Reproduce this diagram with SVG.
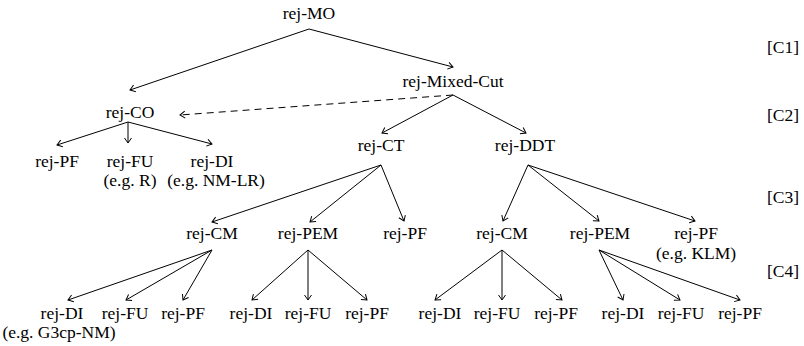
<svg xmlns="http://www.w3.org/2000/svg" width="804" height="346" viewBox="0 0 804 346">
<defs>
<marker id="ah" markerUnits="userSpaceOnUse" markerWidth="10" markerHeight="10" viewBox="-8 -5 10 10" refX="0" refY="0" orient="auto">
<path d="M-5,-3.5 L0,0 L-5,3.5" fill="none" stroke="#000" stroke-width="1"/>
</marker>
<style>
.t text{font-size:17.5px;fill:#000;text-anchor:middle}
.t text.lvl{text-anchor:start}
.c line{stroke:#000;stroke-width:1;fill:none;marker-end:url(#ah)}
.c line.d{stroke-dasharray:7,5}
</style>
</defs>
<rect width="804" height="346" fill="#fff"/>
<g class="c" id="connectors">
<line x1="309" y1="29" x2="130" y2="90"/>
<line x1="309" y1="29" x2="453" y2="67"/>
<line class="d" x1="453" y1="95" x2="180" y2="115"/>
<line x1="453" y1="95" x2="382" y2="133"/>
<line x1="453" y1="95" x2="526" y2="133"/>
<line x1="128" y1="122" x2="57" y2="145"/>
<line x1="128" y1="122" x2="128" y2="143"/>
<line x1="128" y1="122" x2="212" y2="144"/>
<line x1="381" y1="165" x2="212" y2="222"/>
<line x1="381" y1="165" x2="310" y2="222"/>
<line x1="381" y1="165" x2="404" y2="221"/>
<line x1="528" y1="165" x2="503" y2="221"/>
<line x1="528" y1="165" x2="599" y2="221"/>
<line x1="528" y1="165" x2="695" y2="221"/>
<line x1="212" y1="250" x2="68" y2="300"/>
<line x1="212" y1="250" x2="126" y2="300"/>
<line x1="212" y1="250" x2="183" y2="300"/>
<line x1="308" y1="250" x2="252" y2="300"/>
<line x1="308" y1="250" x2="308" y2="300"/>
<line x1="308" y1="250" x2="367" y2="300"/>
<line x1="502" y1="250" x2="435" y2="300"/>
<line x1="502" y1="250" x2="502" y2="300"/>
<line x1="502" y1="250" x2="562" y2="300"/>
<line x1="599" y1="250" x2="623" y2="300"/>
<line x1="599" y1="250" x2="680" y2="300"/>
<line x1="599" y1="250" x2="740" y2="300"/>
</g>
<g class="t" font-family="Liberation Serif, Times New Roman, Times, serif">
<g id="levels">
<text class="lvl" x="767" y="53">[C1]</text>
<text class="lvl" x="767" y="121">[C2]</text>
<text class="lvl" x="767" y="203">[C3]</text>
<text class="lvl" x="767" y="277">[C4]</text>
</g>
<g id="n-mo"><text x="309" y="19">rej-MO</text></g>
<g id="n-mixed"><text x="453" y="87">rej-Mixed-Cut</text></g>
<g id="n-co"><text x="130" y="118">rej-CO</text></g>
<g id="n-co-pf"><text x="57" y="167">rej-PF</text></g>
<g id="n-co-fu"><text x="130" y="167">rej-FU</text><text x="130" y="186">(e.g. R)</text></g>
<g id="n-co-di"><text x="212" y="167">rej-DI</text><text x="216" y="186">(e.g. NM-LR)</text></g>
<g id="n-ct"><text x="381" y="151">rej-CT</text></g>
<g id="n-ddt"><text x="525" y="151">rej-DDT</text></g>
<g id="n-ct-cm"><text x="212" y="239">rej-CM</text></g>
<g id="n-ct-pem"><text x="308" y="239">rej-PEM</text></g>
<g id="n-ct-pf"><text x="405" y="239">rej-PF</text></g>
<g id="n-ddt-cm"><text x="502" y="239">rej-CM</text></g>
<g id="n-ddt-pem"><text x="600" y="239">rej-PEM</text></g>
<g id="n-ddt-pf"><text x="696" y="239">rej-PF</text><text x="696" y="259">(e.g. KLM)</text></g>
<g id="n-cm1-di"><text x="62" y="319">rej-DI</text><text x="59" y="338">(e.g. G3cp-NM)</text></g>
<g id="n-cm1-fu"><text x="125" y="319">rej-FU</text></g>
<g id="n-cm1-pf"><text x="183" y="319">rej-PF</text></g>
<g id="n-pem1-di"><text x="251" y="319">rej-DI</text></g>
<g id="n-pem1-fu"><text x="308" y="319">rej-FU</text></g>
<g id="n-pem1-pf"><text x="367" y="319">rej-PF</text></g>
<g id="n-cm2-di"><text x="440" y="319">rej-DI</text></g>
<g id="n-cm2-fu"><text x="497" y="319">rej-FU</text></g>
<g id="n-cm2-pf"><text x="556" y="319">rej-PF</text></g>
<g id="n-pem2-di"><text x="623" y="319">rej-DI</text></g>
<g id="n-pem2-fu"><text x="681" y="319">rej-FU</text></g>
<g id="n-pem2-pf"><text x="740" y="319">rej-PF</text></g>
</g>
</svg>
